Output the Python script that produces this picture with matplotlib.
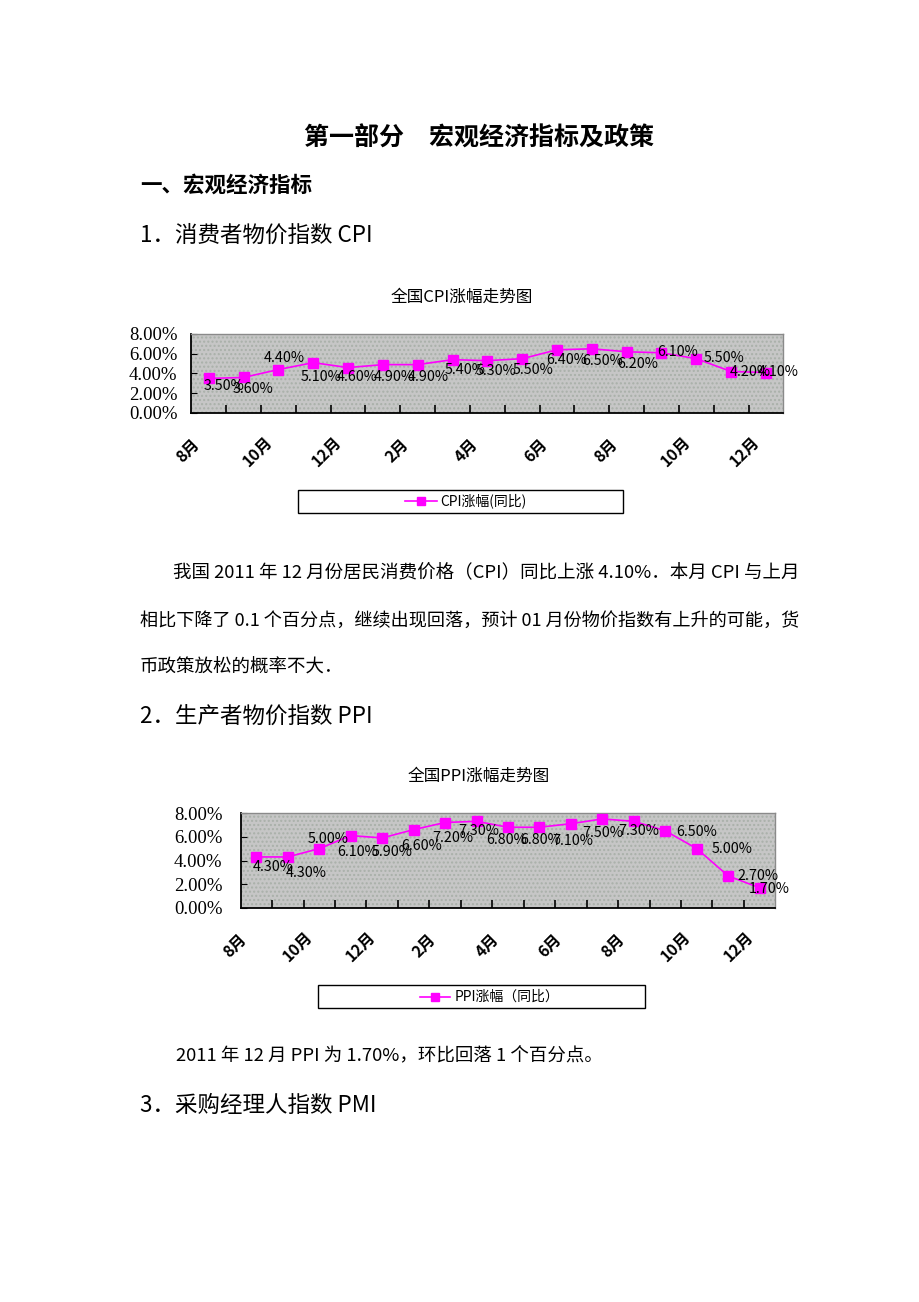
import matplotlib
matplotlib.use('Agg')
import matplotlib.pyplot as plt
from matplotlib.patches import Rectangle
from matplotlib.lines import Line2D
import numpy as np

plt.rcParams['font.family'] = ['Noto Sans CJK SC', 'DejaVu Sans']

# ---------------- data ----------------
months = ['8月', '9月', '10月', '11月', '12月', '1月', '2月', '3月', '4月',
          '5月', '6月', '7月', '8月', '9月', '10月', '11月', '12月']
cpi = [3.5, 3.6, 4.4, 5.1, 4.6, 4.9, 4.9, 5.4, 5.3, 5.5, 6.4, 6.5, 6.2, 6.1, 5.5, 4.2, 4.1]
ppi = [4.3, 4.3, 5.0, 6.1, 5.9, 6.6, 7.2, 7.3, 6.8, 6.8, 7.1, 7.5, 7.3, 6.5, 5.0, 2.7, 1.7]
yticks = [0, 2, 4, 6, 8]

# label offsets (pixels, right / down) - styling only
cpi_off = [(15, 8), (9, 12), (6, -12), (8, 14), (9, 9), (11, 12), (11, 12), (13, 10), (9, 10),
           (11, 11), (10, 10), (11, 12), (11, 12), (16, -1), (28, -1), (19, 0), (12, -1)]
ppi_off = [(17, 10), (18, 16), (9, -10), (7, 16), (10, 14), (8, 16), (8, 16), (2, 10), (-1, 13),
           (1, 13), (2, 17), (0, 14), (5, 10), (31, 1), (35, 0), (30, 0), (10, 1)]

W, H = 920, 1302
fig = plt.figure(figsize=(W / 100, H / 100), dpi=100)


def fx(x):
    return x / W


def fy(y):
    return 1 - y / H


def ftext(x, y, s, **kw):
    kw.setdefault('va', 'center')
    fig.text(fx(x), fy(y), s, **kw)


MAG = '#ff00ff'


def draw_chart(left, right, top, bottom, values, offsets, title, title_xy,
               leg_box, leg_line, leg_text_x, leg_label, ypad):
    ax = fig.add_axes([fx(left), fy(bottom), (right - left) / W, (bottom - top) / H])
    ax.set_facecolor('#c6c6c6')
    ax.add_patch(Rectangle((0, 0), 1, 1, transform=ax.transAxes, facecolor='#c6c6c6',
                           edgecolor='#a9b0a9', hatch='....', lw=0, zorder=0))
    x = np.arange(len(values))
    ax.set_xlim(-0.5, len(values) - 0.5)
    ax.set_ylim(0, 8)
    for s in ['top', 'right']:
        ax.spines[s].set_color('#8a8a8a')
        ax.spines[s].set_linewidth(1.0)
    for s in ['left', 'bottom']:
        ax.spines[s].set_color('black')
        ax.spines[s].set_linewidth(1.3)
    ax.set_yticks(yticks)
    ax.set_yticklabels([f'{t:.2f}%' for t in yticks], family='Liberation Serif', fontsize=13.5)
    ax.tick_params(axis='y', direction='in', length=4, pad=ypad, color='black')
    ax.set_xticks(np.arange(0.5, len(values) - 1, 1))
    ax.set_xticklabels([])
    ax.tick_params(axis='x', direction='in', length=6, width=1.2, color='black')
    for i in range(0, len(values), 2):
        ax.annotate(months[i], xy=(i, 0), xycoords=('data', 'axes fraction'),
                    xytext=(-21, -38), textcoords='offset pixels', rotation=45,
                    ha='center', va='center', fontweight='bold', fontsize=11.5,
                    annotation_clip=False)
    ax.plot(x, values, color=MAG, lw=1.2, marker='s', ms=6.5, mfc=MAG, mec=MAG,
            clip_on=False, zorder=3)
    for i, v in enumerate(values):
        dx, dy = offsets[i]
        ax.annotate(f'{v:.2f}%', xy=(i, v), xytext=(dx, -dy), textcoords='offset pixels',
                    ha='center', va='center', fontsize=10.3, color='black',
                    annotation_clip=False, zorder=4)
    # title
    ftext(title_xy[0], title_xy[1], title, ha='center', fontsize=12)
    # legend
    bl, bt, br, bb = leg_box
    fig.add_artist(Rectangle((fx(bl), fy(bb)), (br - bl) / W, (bb - bt) / H,
                             transform=fig.transFigure, facecolor='white',
                             edgecolor='black', lw=1.0))
    l0, l1, ly = leg_line
    fig.add_artist(Line2D([fx(l0), fx(l1)], [fy(ly), fy(ly)], transform=fig.transFigure,
                          color=MAG, lw=1.2))
    fig.add_artist(Line2D([fx((l0 + l1) / 2)], [fy(ly)], transform=fig.transFigure,
                          color=MAG, marker='s', ms=6, mfc=MAG, mec=MAG, lw=0))
    ftext(leg_text_x, ly, leg_label, ha='left', fontsize=10)
    return ax


# ---------------- page text ----------------
ftext(479, 138, '第一部分　宏观经济指标及政策', ha='center', fontsize=18, fontweight='bold')
ftext(140, 185, '一、宏观经济指标', ha='left', fontsize=15.5, fontweight='bold')
ftext(140, 235, '1．消费者物价指数 CPI', ha='left', fontsize=16.2)

draw_chart(191.3, 783.4, 334, 413, cpi, cpi_off, '全国CPI涨幅走势图', (462, 297),
           (298, 490, 623, 513), (405, 437, 501), 440, 'CPI涨幅(同比)', 10)

ftext(173, 573, '我国 2011 年 12 月份居民消费价格（CPI）同比上涨 4.10%．本月 CPI 与上月',
      ha='left', fontsize=13.3)
ftext(140, 621, '相比下降了 0.1 个百分点，继续出现回落，预计 01 月份物价指数有上升的可能，货',
      ha='left', fontsize=13.05)
ftext(140, 668, '币政策放松的概率不大．', ha='left', fontsize=13.3)

ftext(140, 717, '2．生产者物价指数 PPI', ha='left', fontsize=16.2)

draw_chart(240.6, 775.4, 813, 908, ppi, ppi_off, '全国PPI涨幅走势图', (479, 776),
           (318, 985, 645, 1008), (420, 450, 997), 455, 'PPI涨幅（同比）', 13)

ftext(176, 1056, '2011 年 12 月 PPI 为 1.70%，环比回落 1 个百分点。', ha='left', fontsize=13.3)
ftext(140, 1105, '3．采购经理人指数 PMI', ha='left', fontsize=16.2)

fig.savefig('out.png', dpi=100)
